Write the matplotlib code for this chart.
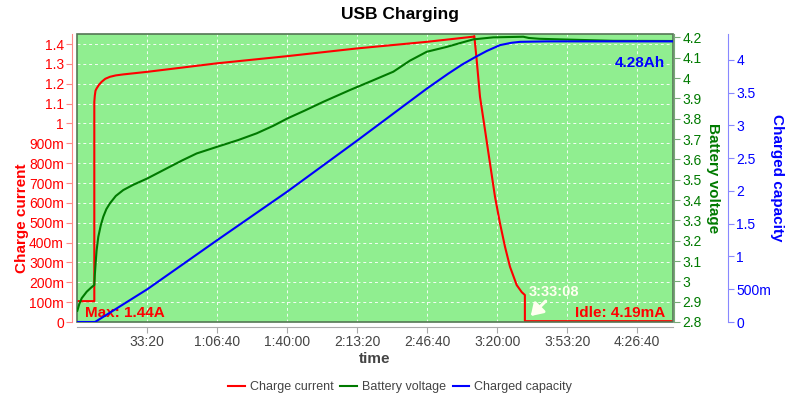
import matplotlib
matplotlib.use("Agg")
import matplotlib.pyplot as plt
from matplotlib.ticker import FuncFormatter, FixedLocator
from matplotlib.patches import Rectangle

plt.rcParams['font.family'] = ['Liberation Sans', 'DejaVu Sans']

# ---- data (time in seconds) ----
cur_t = [0, 486, 486, 500, 520, 554, 620, 697, 800, 934, 1100, 1314, 2000, 4000, 6000, 8000,
         9983, 11314, 11343, 11411, 11506, 11649, 11791, 11934, 12077, 12220, 12363, 12554,
         12700, 12788, 12788, 17020]
cur_v = [0.105, 0.105, 1.109, 1.14, 1.165, 1.177, 1.195, 1.21, 1.225, 1.235, 1.242, 1.247,
         1.260, 1.303, 1.339, 1.378, 1.411, 1.437, 1.44, 1.319, 1.134, 0.967, 0.799, 0.631,
         0.497, 0.379, 0.278, 0.186, 0.15, 0.136, 0.00419, 0.00419]

volt_t = [0, 60, 126, 269, 400, 486, 500, 520, 550, 600, 670, 743, 830, 934, 1100, 1314, 1600,
          2000, 2649, 3000, 3411, 4000, 4600, 5126, 5600, 6000, 6500, 7029, 7791, 8400, 9029,
          9500, 9983, 10554, 11000, 11314, 11886, 12743, 12900, 13200, 13791, 15314, 17020]
volt_v = [2.855, 2.89, 2.917, 2.949, 2.97, 2.982, 3.03, 3.08, 3.15, 3.219, 3.275, 3.318, 3.355,
          3.384, 3.42, 3.449, 3.475, 3.506, 3.564, 3.595, 3.629, 3.662, 3.695, 3.728, 3.765,
          3.801, 3.84, 3.883, 3.941, 3.985, 4.031, 4.085, 4.129, 4.153, 4.175, 4.19, 4.2, 4.203,
          4.197, 4.193, 4.19, 4.183, 4.182]

cap_t = [0, 506, 2000, 4000, 6000, 8000, 9983, 10600, 11000, 11363, 11697, 12077, 12400, 12649,
         13411, 17020]
cap_v = [0, 0, 0.5, 1.25, 1.99, 2.77, 3.56, 3.79, 3.93, 4.04, 4.135, 4.225, 4.26, 4.275,
         4.282, 4.282]

x_ticks = [2000, 4000, 6000, 8000, 10000, 12000, 14000, 16000]
cur_ticks = [i / 10 for i in range(15)]
volt_ticks = [2.8 + i / 10 for i in range(15)]
cap_ticks = [i / 2 for i in range(9)]

max_label = "Max: 1.44A"
idle_label = "Idle: 4.19mA"
cap_label = "4.28Ah"
end_label = "3:33:08"
end_time = 12788

# ---- colours ----
RED = '#ff0000'
GREEN = '#007a00'
BLUE = '#0000ff'
GRAY = '#444444'

PX = 72 / 100  # points per pixel

fig = plt.figure(figsize=(8, 4), dpi=100)
ax = fig.add_axes([77.3 / 800, 1 - 322 / 400, (673 - 77.3) / 800, (322 - 34.3) / 400])
ax.set_facecolor('#90ee90')
ax.set_xlim(0, 17020)
ax.set_ylim(0, 1.449)

axv = ax.twinx()
axc = ax.twinx()
axv.set_ylim(2.8, 4.215)
axc.set_ylim(0, 4.39)

# grid
ax.set_axisbelow(True)
ax.grid(True, color='white', linestyle=(0, (3, 3)), linewidth=0.7, alpha=0.9)

# lines
l1, = ax.plot(cur_t, cur_v, color=RED, lw=1.5, label='Charge current', zorder=3)
l2, = axv.plot(volt_t, volt_v, color=GREEN, lw=1.5, label='Battery voltage')
l3, = axc.plot(cap_t, cap_v, color=BLUE, lw=1.5, label='Charged capacity')

# frame of plot area
ax.add_patch(Rectangle((0, 0), 1, 1, transform=ax.transAxes, fill=False,
                       edgecolor='#557755', lw=1.2, zorder=10, clip_on=False))

# spines
for s in ['top', 'right']:
    ax.spines[s].set_visible(False)
ax.spines['left'].set_position(('outward', 5 * PX))
ax.spines['left'].set_color('#ff8888')
ax.spines['bottom'].set_position(('outward', 5 * PX))
ax.spines['bottom'].set_color('#aaaaaa')

for a in (axv, axc):
    for s in ['top', 'left', 'bottom']:
        a.spines[s].set_visible(False)
axv.spines['right'].set_position(('outward', 1 * PX))
axv.spines['right'].set_color('#77aa77')
axc.spines['right'].set_position(('outward', 55 * PX))
axc.spines['right'].set_color('#8888ff')

# ticks
ax.xaxis.set_major_locator(FixedLocator(x_ticks))


def tfmt(v, pos=None):
    v = int(round(v))
    h, r = divmod(v, 3600)
    m, s = divmod(r, 60)
    if h:
        return f"{h}:{m:02d}:{s:02d}"
    return f"{m:02d}:{s:02d}"


def sifmt(v, pos=None):
    if abs(v) < 1e-9:
        return "0"
    if v < 1:
        return f"{int(round(v * 1000))}m"
    return f"{v:g}"


ax.xaxis.set_major_formatter(FuncFormatter(tfmt))
ax.yaxis.set_major_locator(FixedLocator(cur_ticks))
ax.yaxis.set_major_formatter(FuncFormatter(sifmt))
axv.yaxis.set_major_locator(FixedLocator(volt_ticks))
axv.yaxis.set_major_formatter(FuncFormatter(lambda v, p: f"{round(v, 1):g}"))
axc.yaxis.set_major_locator(FixedLocator(cap_ticks))
axc.yaxis.set_major_formatter(FuncFormatter(sifmt))

ax.tick_params(axis='x', colors='#aaaaaa', labelcolor=GRAY, labelsize=10, length=4, pad=2)
ax.tick_params(axis='y', colors='#ff8888', labelcolor=RED, labelsize=10, length=4, pad=2)
axv.tick_params(axis='y', colors='#77aa77', labelcolor=GREEN, labelsize=10, length=4, pad=2)
axc.tick_params(axis='y', colors='#8888ff', labelcolor=BLUE, labelsize=10, length=4, pad=2)

# labels
fig.text(0.5, 1 - 14 / 400, 'USB Charging', ha='center', va='center', fontsize=12.5,
         fontweight='bold', color='black')
fig.text(22 / 800, 1 - 218 / 400, 'Charge current', rotation=90, ha='center', va='center',
         fontsize=11, fontweight='bold', color=RED)
fig.text(713 / 800, 1 - 178 / 400, 'Battery voltage', rotation=-90, ha='center', va='center',
         fontsize=11, fontweight='bold', color=GREEN)
fig.text(777 / 800, 1 - 178 / 400, 'Charged capacity', rotation=-90, ha='center', va='center',
         fontsize=11, fontweight='bold', color=BLUE)
fig.text(375 / 800, 1 - 359 / 400, 'time', ha='center', va='center',
         fontsize=11, fontweight='bold', color=GRAY)

# annotations
ax.text(0.013, 0.032, max_label, transform=ax.transAxes, ha='left', va='center',
        fontsize=11, fontweight='bold', color=RED, zorder=11)
ax.text(0.987, 0.032, idle_label, transform=ax.transAxes, ha='right', va='center',
        fontsize=11, fontweight='bold', color=RED, zorder=11)
ax.text(0.987, 0.9, cap_label, transform=ax.transAxes, ha='right', va='center',
        fontsize=11, fontweight='bold', color=BLUE, zorder=11)
ax.text(end_time + 830, 0.152, end_label, ha='center', va='center',
        fontsize=10.5, fontweight='bold', color='#fffff0', zorder=11)
ax.annotate('', xy=(end_time + 110, 0.02), xytext=(end_time + 650, 0.115),
            arrowprops=dict(arrowstyle='-|>,head_length=0.7,head_width=0.45', color='#fffff0', lw=2.2),
            zorder=11)

# legend
leg = fig.legend(handles=[l1, l2, l3], loc='center', bbox_to_anchor=(0.5, 1 - 387 / 400),
                 ncol=3, frameon=False, fontsize=9, handlelength=1.3, columnspacing=0.56,
                 handletextpad=0.4)
for t in leg.get_texts():
    t.set_color(GRAY)

fig.savefig('out.png', dpi=100)
